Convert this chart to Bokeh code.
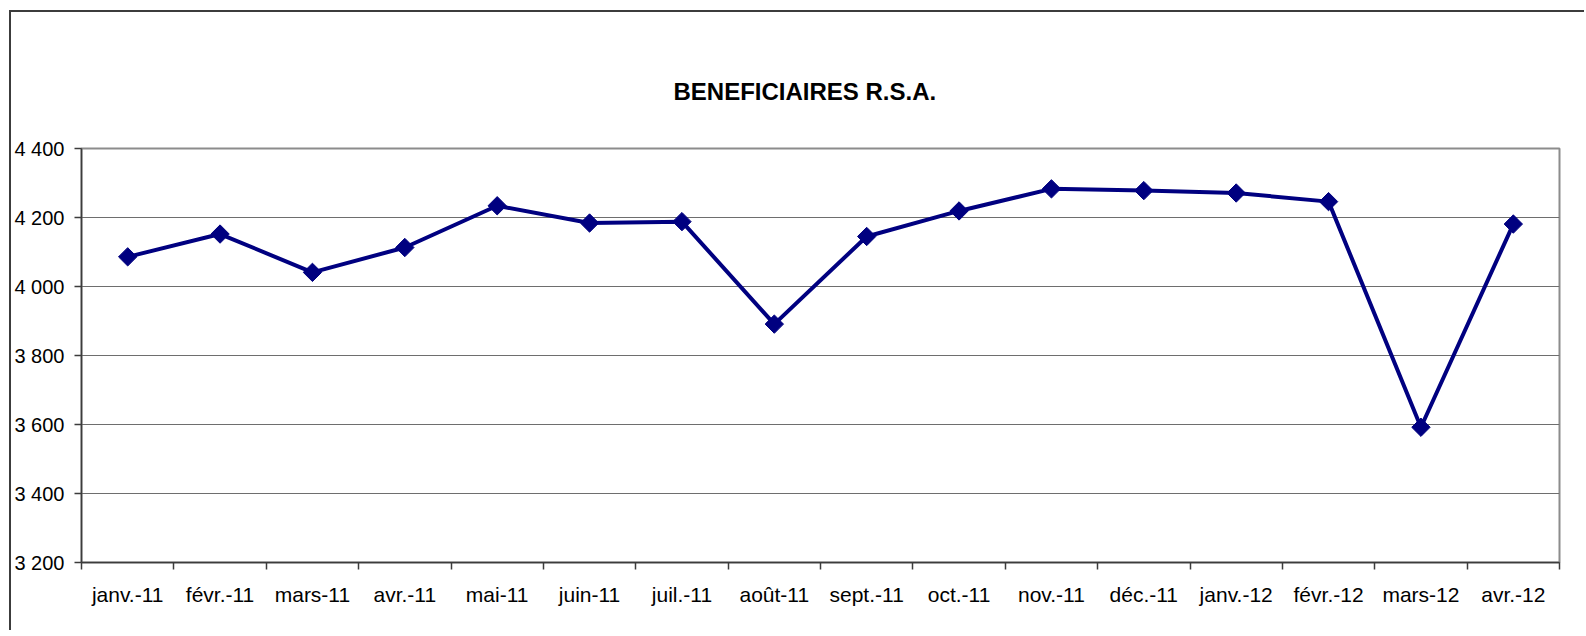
from bokeh.plotting import figure
from bokeh.models import (Range1d, FactorRange, LinearAxis, CategoricalAxis, FixedTicker,
                          Grid, ColumnDataSource)
from bokeh.embed import file_html
from bokeh.resources import INLINE
import math

months = ["janv.-11", "févr.-11", "mars-11", "avr.-11", "mai-11", "juin-11", "juil.-11",
          "août-11", "sept.-11", "oct.-11", "nov.-11", "déc.-11", "janv.-12", "févr.-12",
          "mars-12", "avr.-12"]
beneficiaires = [4086, 4152, 4041, 4113, 4234, 4184, 4188, 3891, 4145, 4219, 4283, 4278,
                 4271, 4246, 3592, 4181]
y_ticks = [3200, 3400, 3600, 3800, 4000, 4200, 4400]
y_tick_labels = ["3 200", "3 400", "3 600", "3 800", "4 000", "4 200", "4 400"]
title_text = "BENEFICIAIRES R.S.A."

FONT = "Liberation Sans"

p = figure(width=1575, height=620, x_range=FactorRange(*months), y_range=Range1d(3200, 4400),
           x_axis_location=None, y_axis_location=None, output_backend="svg",
           toolbar_location=None, min_border_left=69, min_border_right=27,
           min_border_top=136, min_border_bottom=70)
p.styles = {"margin-left": "9px", "margin-top": "10px",
            "border-left": "2px solid #3c3c3c", "border-top": "2px solid #3c3c3c"}
p.background_fill_color = "white"
p.border_fill_color = "white"
p.outline_line_color = "#8c8c8c"
p.outline_line_width = 2
for g in p.grid:
    g.visible = False

p.title.text = title_text
p.title.text_font = FONT
p.title.text_font_size = "24px"
p.title.text_font_style = "bold"
p.title.align = "left"
p.title.offset = 592
p.title.vertical_align = "top"
p.title.standoff = 84
p.title.text_color = "black"

# y axis
yaxis = LinearAxis(ticker=FixedTicker(ticks=y_ticks),
                   major_label_overrides={t: l for t, l in zip(y_ticks, y_tick_labels)})
yaxis.axis_line_color = "#3c3c3c"
yaxis.axis_line_width = 1.5
yaxis.major_tick_line_color = "#3c3c3c"
yaxis.major_tick_line_width = 1.5
yaxis.major_tick_out = 7
yaxis.major_tick_in = 0
yaxis.minor_tick_line_color = None
yaxis.major_label_standoff = 10
yaxis.major_label_text_font = FONT
yaxis.major_label_text_font_size = "20px"
yaxis.major_label_text_color = "black"
p.add_layout(yaxis, "left")

# tick marks at category boundaries (synthetic coordinates 0..N)
boundaries = list(range(len(months) + 1))
tick_axis = LinearAxis(ticker=FixedTicker(ticks=boundaries),
                       major_label_overrides={b: "" for b in boundaries})
tick_axis.axis_line_color = "#3c3c3c"
tick_axis.axis_line_width = 1.5
tick_axis.major_tick_line_color = "#3c3c3c"
tick_axis.major_tick_line_width = 1.5
tick_axis.major_tick_out = 7
tick_axis.major_tick_in = 0
tick_axis.minor_tick_line_color = None
tick_axis.major_label_text_font_size = "1px"
tick_axis.major_label_standoff = 0
p.add_layout(tick_axis, "below")

# category label axis
cat_axis = CategoricalAxis()
cat_axis.axis_line_color = None
cat_axis.major_tick_line_color = None
cat_axis.minor_tick_line_color = None
cat_axis.major_label_standoff = 7
cat_axis.major_label_text_font = FONT
cat_axis.major_label_text_font_size = "21px"
cat_axis.major_label_text_color = "black"
p.add_layout(cat_axis, "below")

grid = Grid(dimension=1, ticker=FixedTicker(ticks=y_ticks))
grid.grid_line_color = "#6e6e6e"
grid.grid_line_width = 1
p.add_layout(grid)

src = ColumnDataSource(dict(month=months, value=beneficiaires))
p.line("month", "value", source=src, line_color="#000080", line_width=4)
p.scatter("month", "value", source=src, marker="square", size=13, angle=math.pi / 4,
          fill_color="#000080", line_color="#000080")

open("out.html", "w").write(file_html(p, INLINE))
